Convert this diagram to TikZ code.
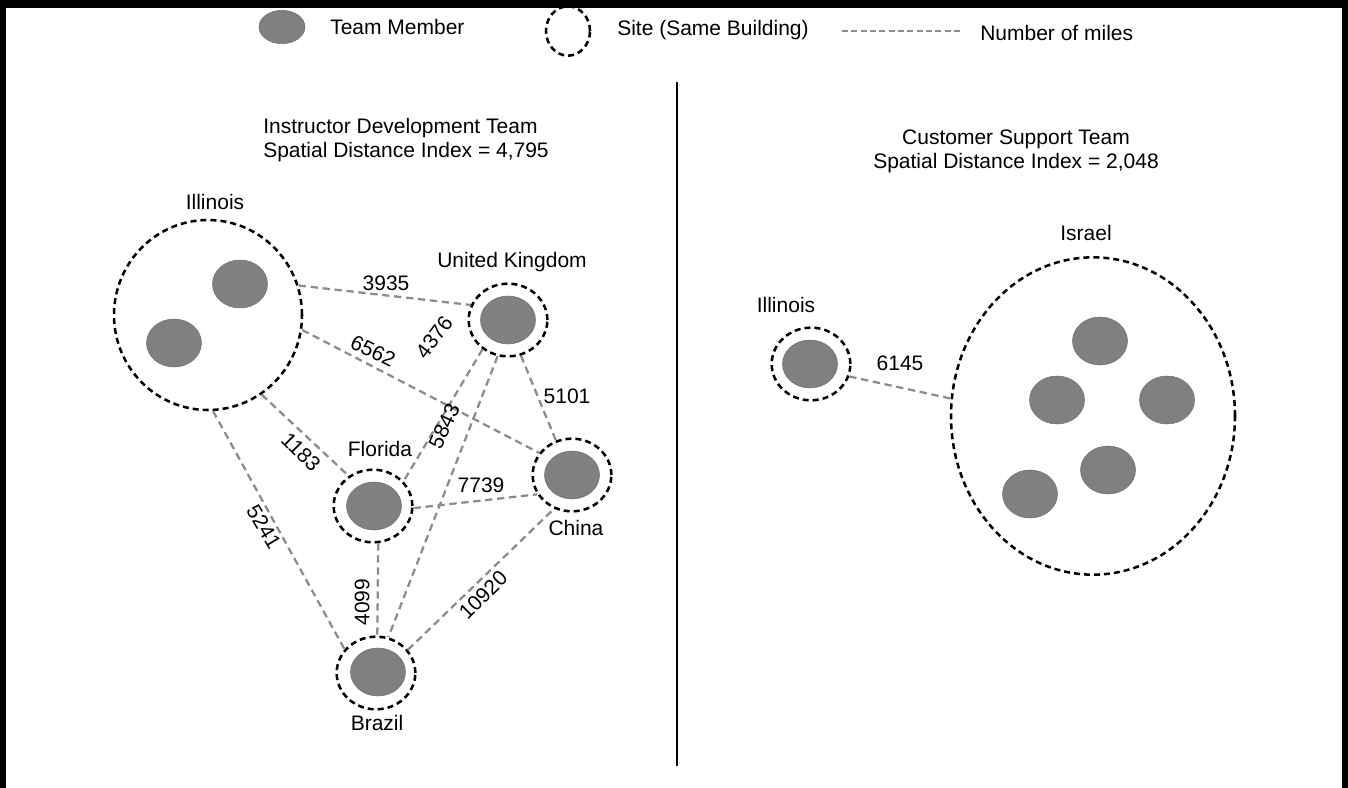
\documentclass[tikz,border=0pt]{standalone}
\usepackage{fontspec}
\setmainfont{Liberation Sans}
\usetikzlibrary{shapes.geometric}
\definecolor{member}{HTML}{808080}
\definecolor{memberedge}{HTML}{707070}
\definecolor{mileline}{HTML}{8C8C8C}
\begin{document}
\begin{tikzpicture}[x=0.75pt,y=-0.75pt,
  txt/.style={font=\fontsize{15.75}{19}\selectfont, inner sep=0pt, text depth=0pt},
  member/.style={ellipse, fill=member, draw=memberedge, line width=0.4pt, minimum width=41.25pt, minimum height=36pt, inner sep=0pt},
  site/.style={ellipse, draw=black, line width=1.9pt, dash pattern=on 4.5pt off 3pt, minimum width=59pt, minimum height=54.5pt, inner sep=0pt},
  miles/.style={draw=mileline, line width=1.7pt, dash pattern=on 5.5pt off 3.5pt},
  lbl/.style={txt}
]
\useasboundingbox (0,0) rectangle (1348,788);
\fill[white] (0,0) rectangle (1348,788);
% frame
\fill[black] (0,0) rectangle (1348,8);
\fill[black] (0,0) rectangle (6,788);
\fill[black] (1342,0) rectangle (1348,788);
% divider
\coordinate (dtop) at (677,82);
\coordinate (dbot) at (677,766);
\draw[line width=1pt] (dtop) -- (dbot);

% legend
\node[member, minimum width=34.5pt, minimum height=25pt] (lgm) at (282,27) {};
\node[txt, anchor=west] (lgmt) at (330,27) {Team Member};
\node[site, minimum width=33pt, minimum height=37pt] (lgs) at (568,31) {};
\node[txt, anchor=west] (lgst) at (617,28) {Site (Same Building)};
\coordinate (lgl1) at (842,31);
\coordinate (lgl2) at (963,31);
\draw[draw=mileline, line width=1.5pt, dash pattern=on 4.5pt off 2.5pt] (lgl1) -- (lgl2);
\node[txt, anchor=west] (lglt) at (980,33) {Number of miles};

% headings
\node[txt, anchor=west] (h1a) at (263,125.5) {Instructor Development Team};
\node[txt, anchor=west] (h1b) at (263,149.5) {Spatial Distance Index = 4,795};
\node[txt] (h2a) at (1016,137) {Customer Support Team};
\node[txt] (h2b) at (1016,160.5) {Spatial Distance Index = 2,048};

% left team sites
\node[site, minimum width=141pt, minimum height=142.5pt] (illL) at (208,315) {};
\node[member] (illLa) at (240,284) {};
\node[member] (illLb) at (174,343) {};
\node[txt] (illLt) at (215,201.5) {Illinois};

\node[site] (uk) at (508,320) {};
\node[member] (ukm) at (508,320) {};
\node[txt] (ukt) at (512,259.5) {United Kingdom};

\node[site] (fl) at (373,506) {};
\node[member] (flm) at (374,506) {};
\node[txt] (flt) at (380,449) {Florida};

\node[site] (cn) at (572,475) {};
\node[member] (cnm) at (572,475) {};
\node[txt] (cnt) at (576,527.5) {China};

\node[site] (br) at (376,673) {};
\node[member] (brm) at (378,672) {};
\node[txt] (brt) at (377,722.5) {Brazil};

% left connectors
\draw[miles] (illL.18.8) -- (uk.158);
\draw[miles] (illL.-9.3) -- (cn.146);
\draw[miles] (illL.-56.6) -- (fl.129);
\draw[miles] (illL.-87) -- (br.143);
\draw[miles] (uk.-70.6) -- (cn.115);
\draw[miles] (uk.-131) -- (fl.39.4);
\draw[miles] (uk.-106) -- (br.71);
\draw[miles] (fl.-3) -- (cn.209);
\draw[miles] (fl.-82) -- (br.88);
\draw[miles] (br.36) -- (cn.-118);

% left labels
\node[lbl] (d3935) at (386,283) {3935};
\node[lbl, rotate=-26] (d6562) at (373,351) {6562};
\node[lbl, rotate=53] (d4376) at (434,337) {4376};
\node[lbl, rotate=65] (d5843) at (444,426) {5843};
\node[lbl] (d5101) at (567,396) {5101};
\node[lbl, rotate=-45] (d1183) at (301,452) {1183};
\node[lbl, rotate=-59] (d5241) at (264,527) {5241};
\node[lbl] (d7739) at (481,485) {7739};
\node[lbl, rotate=90] (d4099) at (362,602) {4099};
\node[lbl, rotate=45] (d10920) at (483,595) {10920};

% right team
\node[site] (illR) at (811,364) {};
\node[member] (illRm) at (810,364) {};
\node[txt] (illRt) at (786,304.5) {Illinois};

\node[site, minimum width=213pt, minimum height=238pt] (isr) at (1093,416) {};
\node[txt] (isrt) at (1086,232.5) {Israel};
\node[member] (isra) at (1100,341) {};
\node[member] (isrb) at (1057,400) {};
\node[member] (isrc) at (1167,400) {};
\node[member] (isrd) at (1108,470) {};
\node[member] (isre) at (1030,494) {};

\draw[miles] (illR.-18.4) -- (isr.173.6);
\node[lbl] (d6145) at (900,363) {6145};
\end{tikzpicture}
\end{document}
